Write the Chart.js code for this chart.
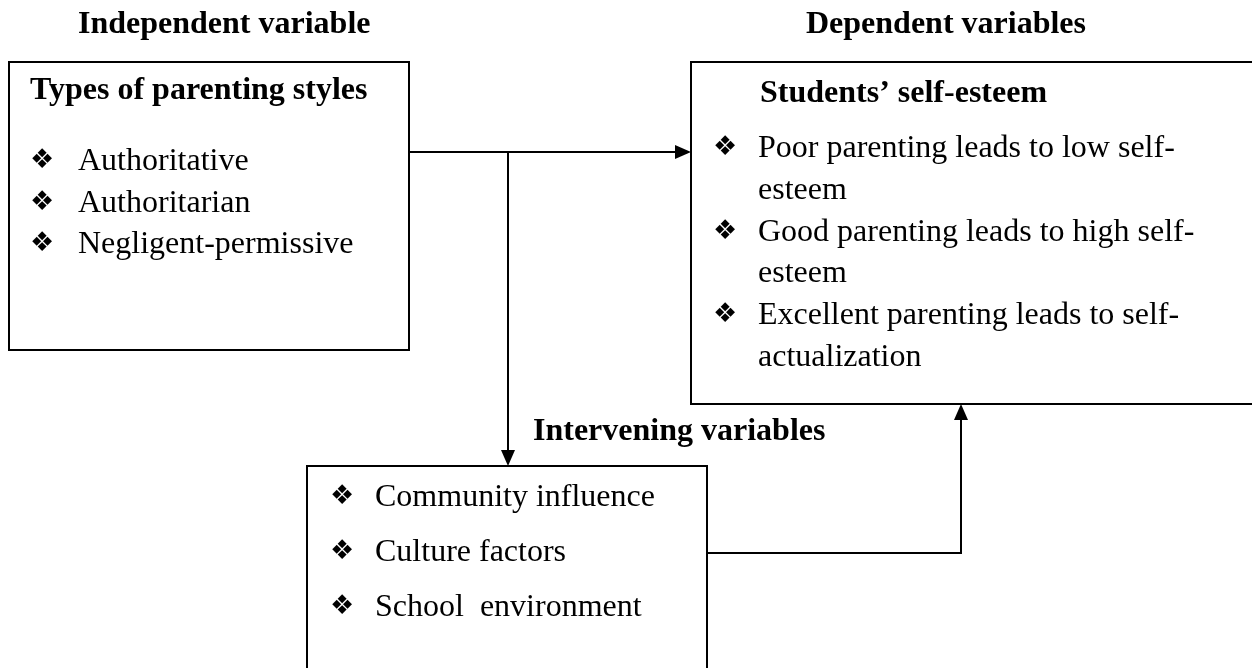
<!DOCTYPE html>
<html>
<head>
<meta charset="utf-8">
<script src="https://cdn.jsdelivr.net/npm/chart.js@4.4.1/dist/chart.umd.min.js"></script>
<style>
  html, body { margin: 0; padding: 0; background: #ffffff; }
  #wrap { width: 1252px; height: 668px; }
</style>
</head>
<body>
<div id="wrap"><canvas id="c" width="1252" height="668"></canvas></div>
<script>
// ---- Content (text of the diagram) ----
const headings = ['Independent variable', 'Dependent variables'];
const boxTitles = ['Types of parenting styles', 'Students\u2019 self-esteem', 'Intervening variables'];
const parentingStyles = ['Authoritative', 'Authoritarian', 'Negligent-permissive'];
const selfEsteemOutcomes = [
  ['Poor parenting leads to low self-', 'esteem'],
  ['Good parenting leads to high self-', 'esteem'],
  ['Excellent parenting leads to self-', 'actualization']
];
const interveningFactors = ['Community influence', 'Culture factors', 'School  environment'];
const bulletGlyph = '\u2756';

// ---- Layout (positions in diagram units = scale values) ----
const layout = {
  boxes: [
    { x0: 9,   y0: 62,  x1: 409,  y1: 350 },
    { x0: 691, y0: 62,  x1: 1262, y1: 404 },
    { x0: 307, y0: 466, x1: 707,  y1: 690 }
  ],
  connectors: [
    { pts: [[409, 152], [691, 152]], arrow: 'right' },
    { pts: [[508, 152], [508, 466]], arrow: 'down' },
    { pts: [[707, 553], [961, 553], [961, 404]], arrow: 'up' }
  ],
  headingPos: [[78, 33], [806, 33]],
  titlePos: [[30, 99], [760, 102], [533, 440]],
  list1: { bulletX: 32, textX: 78, baselines: [170, 212, 253] },
  list2: { bulletX: 715, textX: 758, baselines: [157, 199, 241, 282, 324, 366] },
  list3: { bulletX: 332, textX: 375, baselines: [506, 561, 616] }
};

const SERIF = '"Liberation Serif", "Times New Roman", serif';
const FS = 32;

function polyPts(arr) { return arr.map(p => ({ x: p[0], y: p[1] })); }

const datasets = [];
layout.boxes.forEach(b => {
  datasets.push({
    data: polyPts([[b.x0, b.y0], [b.x1, b.y0], [b.x1, b.y1], [b.x0, b.y1], [b.x0, b.y0]]),
    showLine: true, borderColor: '#000', borderWidth: 2, pointRadius: 0,
    borderJoinStyle: 'miter', borderCapStyle: 'square', fill: false, tension: 0
  });
});
layout.connectors.forEach(c => {
  // shorten the last segment so the arrowhead provides the tip
  const pts = c.pts.map(p => p.slice());
  const n = pts.length;
  const last = pts[n - 1];
  if (c.arrow === 'right') last[0] -= 10;
  if (c.arrow === 'down') last[1] -= 10;
  if (c.arrow === 'up') last[1] += 10;
  datasets.push({
    data: polyPts(pts),
    showLine: true, borderColor: '#000', borderWidth: 2, pointRadius: 0,
    borderJoinStyle: 'miter', borderCapStyle: 'butt', fill: false, tension: 0
  });
});

const diagramPlugin = {
  id: 'diagram',
  afterDatasetsDraw(chart) {
    const ctx = chart.ctx;
    const xs = chart.scales.x, ys = chart.scales.y;
    const X = v => xs.getPixelForValue(v);
    const Y = v => ys.getPixelForValue(v);
    ctx.save();
    ctx.fillStyle = '#000';

    // arrowheads
    layout.connectors.forEach(c => {
      const tip = c.pts[c.pts.length - 1];
      const tx = X(tip[0]), ty = Y(tip[1]);
      const L = 16, W = 7;
      ctx.beginPath();
      if (c.arrow === 'right') {
        ctx.moveTo(tx, ty); ctx.lineTo(tx - L, ty - W); ctx.lineTo(tx - L, ty + W);
      } else if (c.arrow === 'down') {
        ctx.moveTo(tx, ty); ctx.lineTo(tx - W, ty - L); ctx.lineTo(tx + W, ty - L);
      } else {
        ctx.moveTo(tx, ty); ctx.lineTo(tx - W, ty + L); ctx.lineTo(tx + W, ty + L);
      }
      ctx.closePath();
      ctx.fill();
    });

    ctx.textBaseline = 'alphabetic';
    ctx.textAlign = 'left';

    // headings and titles
    ctx.font = 'bold ' + FS + 'px ' + SERIF;
    headings.forEach((t, i) => ctx.fillText(t, X(layout.headingPos[i][0]), Y(layout.headingPos[i][1])));
    boxTitles.forEach((t, i) => ctx.fillText(t, X(layout.titlePos[i][0]), Y(layout.titlePos[i][1])));

    // bullet glyph sized to ~21 x 16 box sitting on baseline
    function bullet(x, base) {
      ctx.font = '100px "DejaVu Sans"';
      const m = ctx.measureText(bulletGlyph);
      const w = m.actualBoundingBoxLeft + m.actualBoundingBoxRight;
      const s = 20 / w;
      const fsz = 100 * s;
      ctx.font = fsz + 'px "DejaVu Sans"';
      const m2 = ctx.measureText(bulletGlyph);
      const desc = m2.actualBoundingBoxDescent;
      ctx.fillText(bulletGlyph, x + m2.actualBoundingBoxLeft, base - desc - 1);
    }

    function list(cfg, items) {
      let li = 0;
      items.forEach(item => {
        const lines = Array.isArray(item) ? item : [item];
        bullet(X(cfg.bulletX), Y(cfg.baselines[li]));
        lines.forEach(line => {
          ctx.font = FS + 'px ' + SERIF;
          ctx.fillText(line, X(cfg.textX), Y(cfg.baselines[li]));
          li++;
        });
      });
    }
    list(layout.list1, parentingStyles);
    list(layout.list2, selfEsteemOutcomes);
    list(layout.list3, interveningFactors);

    ctx.restore();
  }
};

new Chart(document.getElementById('c'), {
  type: 'scatter',
  data: { datasets },
  options: {
    responsive: false,
    animation: false,
    events: [],
    layout: { padding: 0 },
    plugins: { legend: { display: false }, tooltip: { enabled: false }, title: { display: false } },
    scales: {
      x: { type: 'linear', min: 0, max: 1252, display: false },
      y: { type: 'linear', min: 0, max: 668, reverse: true, display: false }
    }
  },
  plugins: [diagramPlugin]
});
</script>
</body>
</html>
